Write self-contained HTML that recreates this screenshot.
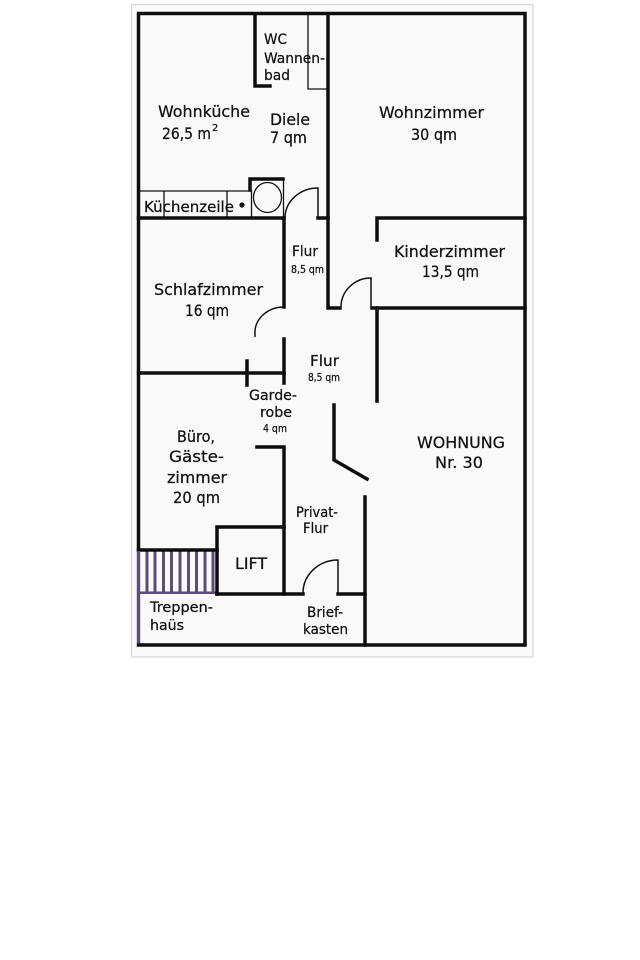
<!DOCTYPE html>
<html><head><meta charset="utf-8"><style>
html,body{margin:0;padding:0;background:#fff;}
svg{display:block;}
text{font-family:"DejaVu Sans","Liberation Sans",sans-serif;fill:#111;stroke:#111;stroke-width:0.25;}
</style></head><body>
<svg width="640" height="960" viewBox="0 0 640 960" xmlns="http://www.w3.org/2000/svg">
<rect x="0" y="0" width="640" height="960" fill="#fff"/>
<rect x="131.5" y="4.5" width="401.5" height="652.5" fill="#f9f9f9" stroke="#d6d6d6" stroke-width="1.2"/>

<!-- stairs -->
<g fill="#5d4c78">
<rect x="137" y="551" width="3" height="94"/>
<rect x="145.5" y="551" width="3" height="42"/>
<rect x="153.5" y="551" width="3" height="42"/>
<rect x="162" y="551" width="3" height="42"/>
<rect x="170" y="551" width="3" height="42"/>
<rect x="178.5" y="551" width="3" height="42"/>
<rect x="187" y="551" width="3" height="42"/>
<rect x="195" y="551" width="3" height="42"/>
<rect x="203.5" y="551" width="3" height="42"/>
<rect x="211.5" y="551" width="3" height="42"/>
<rect x="137" y="591.5" width="80" height="2.5"/>
</g>

<g fill="none" stroke="#0d0d0d" stroke-width="3.5" stroke-linecap="square">
<path d="M138.5,550 V13.5 H525 V645 H138.5"/>
<path d="M255,14 V86 H270"/>
<path d="M328,14 V308 H340"/>
<path d="M377,240 V218 H525"/>
<path d="M372,308 H525"/>
<path d="M377,308 V401"/>
<path d="M138.5,218 H284"/>
<path d="M250,190 V179 H283"/>
<path d="M318,218 H328"/>
<path d="M284,218 V307"/>
<path d="M284,339 V383"/>
<path d="M138.5,373 H284"/>
<path d="M247,361 V385"/>
<path d="M257,447 H284 V594"/>
<path d="M138.5,550 H217"/>
<path d="M217,594 V527 H284"/>
<path d="M217,594 H303"/>
<path d="M338,594 H365"/>
<path d="M365,497 V645"/>
<path d="M334,405 V460 L367,479"/>
</g>
<rect x="136.8" y="551" width="3.4" height="92" fill="#5d4c78"/>

<g fill="none" stroke="#111" stroke-width="1.3">
<path d="M308,15 V89 H327"/>
<path d="M139,191 H250"/>
<path d="M164,191 V217"/>
<path d="M227,191 V217"/>
<path d="M251.5,190 V217"/>
<path d="M283.5,180 V217"/>
<ellipse cx="267.5" cy="197.5" rx="14" ry="15"/>
<path d="M285,217 A33,30 0 0 1 318,188 V217" stroke-width="1.5"/>
<path d="M341,307 A30,29 0 0 1 371,278 V307" stroke-width="1.5"/>
<path d="M284,307 A29,26 0 0 0 255,330 V337" stroke-width="1.5"/>
<path d="M303,593 A35,33 0 0 1 338,560 V593" stroke-width="1.5"/>
</g>
<circle cx="242" cy="205" r="2.6" fill="#111"/>

<g font-size="14">
<text x="264" y="44" textLength="23" lengthAdjust="spacingAndGlyphs">WC</text>
<text x="264" y="63" textLength="61" lengthAdjust="spacingAndGlyphs">Wannen-</text>
<text x="264" y="80" textLength="26" lengthAdjust="spacingAndGlyphs">bad</text>
</g>
<g font-size="16">
<text x="158" y="117" textLength="92" lengthAdjust="spacingAndGlyphs">Wohnküche</text>
<text x="162" y="139" textLength="49" lengthAdjust="spacingAndGlyphs">26,5 m</text>
<text x="270" y="125" textLength="40" lengthAdjust="spacingAndGlyphs">Diele</text>
<text x="270" y="143" textLength="37" lengthAdjust="spacingAndGlyphs">7 qm</text>
<text x="379" y="118" textLength="105" lengthAdjust="spacingAndGlyphs">Wohnzimmer</text>
<text x="411" y="140" textLength="46" lengthAdjust="spacingAndGlyphs">30 qm</text>
<text x="394" y="257" textLength="111" lengthAdjust="spacingAndGlyphs">Kinderzimmer</text>
<text x="422" y="277" textLength="57" lengthAdjust="spacingAndGlyphs">13,5 qm</text>
<text x="154" y="295" textLength="109" lengthAdjust="spacingAndGlyphs">Schlafzimmer</text>
<text x="185" y="316" textLength="44" lengthAdjust="spacingAndGlyphs">16 qm</text>
<text x="177" y="442" textLength="38" lengthAdjust="spacingAndGlyphs">Büro,</text>
<text x="169" y="462" textLength="55" lengthAdjust="spacingAndGlyphs">Gäste-</text>
<text x="167" y="483" textLength="60" lengthAdjust="spacingAndGlyphs">zimmer</text>
<text x="173" y="503" textLength="47" lengthAdjust="spacingAndGlyphs">20 qm</text>
<text x="235" y="569" textLength="32" lengthAdjust="spacingAndGlyphs">LIFT</text>
<text x="417" y="448" textLength="88" lengthAdjust="spacingAndGlyphs">WOHNUNG</text>
<text x="435" y="468" textLength="48" lengthAdjust="spacingAndGlyphs">Nr. 30</text>
</g>
<text x="212" y="131" font-size="10">2</text>
<text x="144" y="212" font-size="15" textLength="90" lengthAdjust="spacingAndGlyphs">Küchenzeile</text>
<g font-size="14">
<text x="292" y="256" textLength="26" lengthAdjust="spacingAndGlyphs">Flur</text>
<text x="310" y="366" font-size="15" textLength="29" lengthAdjust="spacingAndGlyphs">Flur</text>
<text x="249" y="400" textLength="48" lengthAdjust="spacingAndGlyphs">Garde-</text>
<text x="260" y="417" textLength="32" lengthAdjust="spacingAndGlyphs">robe</text>
<text x="296" y="517" textLength="42" lengthAdjust="spacingAndGlyphs">Privat-</text>
<text x="303" y="533" textLength="25" lengthAdjust="spacingAndGlyphs">Flur</text>
<text x="150" y="612" textLength="63" lengthAdjust="spacingAndGlyphs">Treppen-</text>
<text x="150" y="630" textLength="34" lengthAdjust="spacingAndGlyphs">haüs</text>
<text x="307" y="617" textLength="36" lengthAdjust="spacingAndGlyphs">Brief-</text>
<text x="303" y="634" textLength="45" lengthAdjust="spacingAndGlyphs">kasten</text>
</g>
<g font-size="11">
<text x="291" y="273" textLength="33" lengthAdjust="spacingAndGlyphs">8,5 qm</text>
<text x="308" y="381" textLength="32" lengthAdjust="spacingAndGlyphs">8,5 qm</text>
<text x="263" y="432" textLength="24" lengthAdjust="spacingAndGlyphs">4 qm</text>
</g>
</svg>
</body></html>
